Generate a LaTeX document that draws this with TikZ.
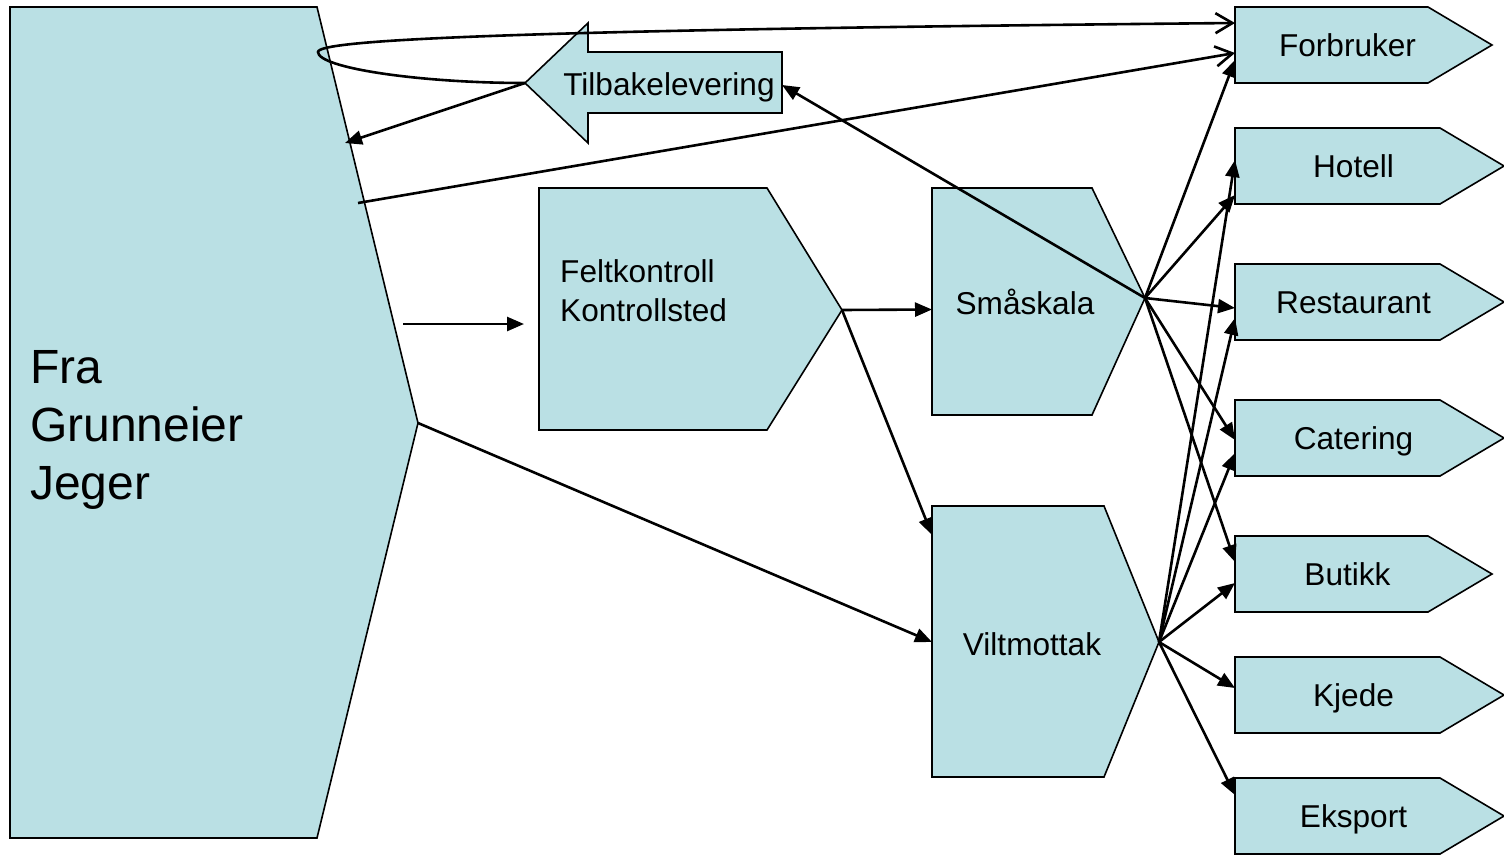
\documentclass[tikz,border=0pt]{standalone}
\usepackage{fontspec}
\setmainfont{Liberation Sans}
\usepackage{tikz}
\usetikzlibrary{
	arrows.meta,									% 提供各种箭头样式
	calc,											% 坐标计算
}
\definecolor{boxblue}{RGB}{186,224,228}
\tikzset{
	box/.style={draw=black, fill=boxblue, line width=1.6pt, line join=miter},
	lbl/.style={font=\fontsize{31.6}{39}\selectfont, inner sep=0pt, text height=22pt, text depth=0pt},
	multilbl/.style={font=\fontsize{31.6}{39}\selectfont, inner sep=0pt, align=left},
	biglbl/.style={font=\fontsize{48}{58}\selectfont, inner sep=0pt, align=left},
	link/.style={line width=2.6pt, -{Triangle[length=17pt,width=14pt]}},
	openlink/.style={line width=2.6pt, -{Straight Barb[length=17pt,width=20pt]}},
}

\begin{document}
\begin{tikzpicture}[x=1pt, y=-1pt]
		\useasboundingbox (0,0) rectangle (1504,854);

		\draw[box] (10,7) -- (317,7) -- (418,423) coordinate (src-tip) -- (317,838) -- (10,838) -- cycle;
		\node[biglbl, anchor=west] (src) at (30,430) {Fra\\Grunneier\\Jeger};
		\coordinate (src-in) at (345,143);
		\coordinate (src-a) at (358,203);
		\coordinate (src-b) at (403,324);

		\draw[box] (525,83) coordinate (tilb-tip) -- (588,23) -- (588,52) -- (782,52) -- (782,113) -- (588,113) -- (588,143) -- cycle;
		\node[lbl] (tilb) at (669,84) {Tilbakelevering};
		\coordinate (tilb-e) at (782,85);

		\draw[box] (539,188) -- (767,188) -- (842,310) coordinate (felt-tip) -- (767,430) -- (539,430) -- cycle;
		\node[multilbl, anchor=west] (felt) at (560,291) {Feltkontroll\\Kontrollsted};
		\coordinate (felt-in) at (524,324);

		\draw[box] (932,188) -- (1092,188) -- (1145,298) coordinate (sma-tip) -- (1092,415) -- (932,415) -- cycle;
		\node[lbl] (sma) at (1025,303) {Småskala};
		\coordinate (sma-w) at (932,301.5);

		\draw[box] (932,506) -- (1104,506) -- (1159,642) coordinate (vilt-tip) -- (1104,777) -- (932,777) -- cycle;
		\node[lbl] (vilt) at (1032,644) {Viltmottak};
		\coordinate (vilt-w) at (932,642);

		\foreach \nm/\txt/\yt/\sh in {forb/Forbruker/7/1428, hot/Hotell/128/1440, rest/Restaurant/264/1440,
			cat/Catering/400/1440, but/Butikk/536/1428, kje/Kjede/657/1440, eks/Eksport/778/1440} {
			\draw[box] (1235,\yt) -- (\sh,\yt) -- (\sh+64,\yt+38) -- (\sh,\yt+76) -- (1235,\yt+76) -- cycle;
			\coordinate (\nm-w) at (1235,\yt+38);
			\node[lbl] (\nm) at ({(1235+\sh+32)/2},\yt+38) {\txt};
		}

		\coordinate (loop) at (318,52);
		\draw[openlink] (tilb-tip) .. controls (420,83) and (318,68) .. (loop)
			.. controls (318,40) and (500,30) .. ([yshift=22pt]forb-w);
		\draw[link] (tilb-tip) -- (src-in);
		\draw[openlink] (src-a) -- ([yshift=-8pt]forb-w);
		\draw[link] (src-b) -- (felt-in);
		\draw[link] (src-tip) -- (vilt-w);
		\draw[link] (felt-tip) -- ([yshift=-8pt]sma-w);
		\draw[link] (felt-tip) -- ([yshift=107pt]vilt-w);
		\draw[link] (sma-tip) -- (tilb-e);
		\foreach \nm/\dy in {forb/-15, hot/-29, rest/-6, cat/-2, but/12}
			\draw[link] (sma-tip) -- ([yshift=\dy pt]\nm-w);
		\foreach \nm/\dy in {hot/6, rest/-16, cat/-15, but/-9, kje/7, eks/21}
			\draw[link] (vilt-tip) -- ([yshift=\dy pt]\nm-w);
	\end{tikzpicture}
\end{document}
